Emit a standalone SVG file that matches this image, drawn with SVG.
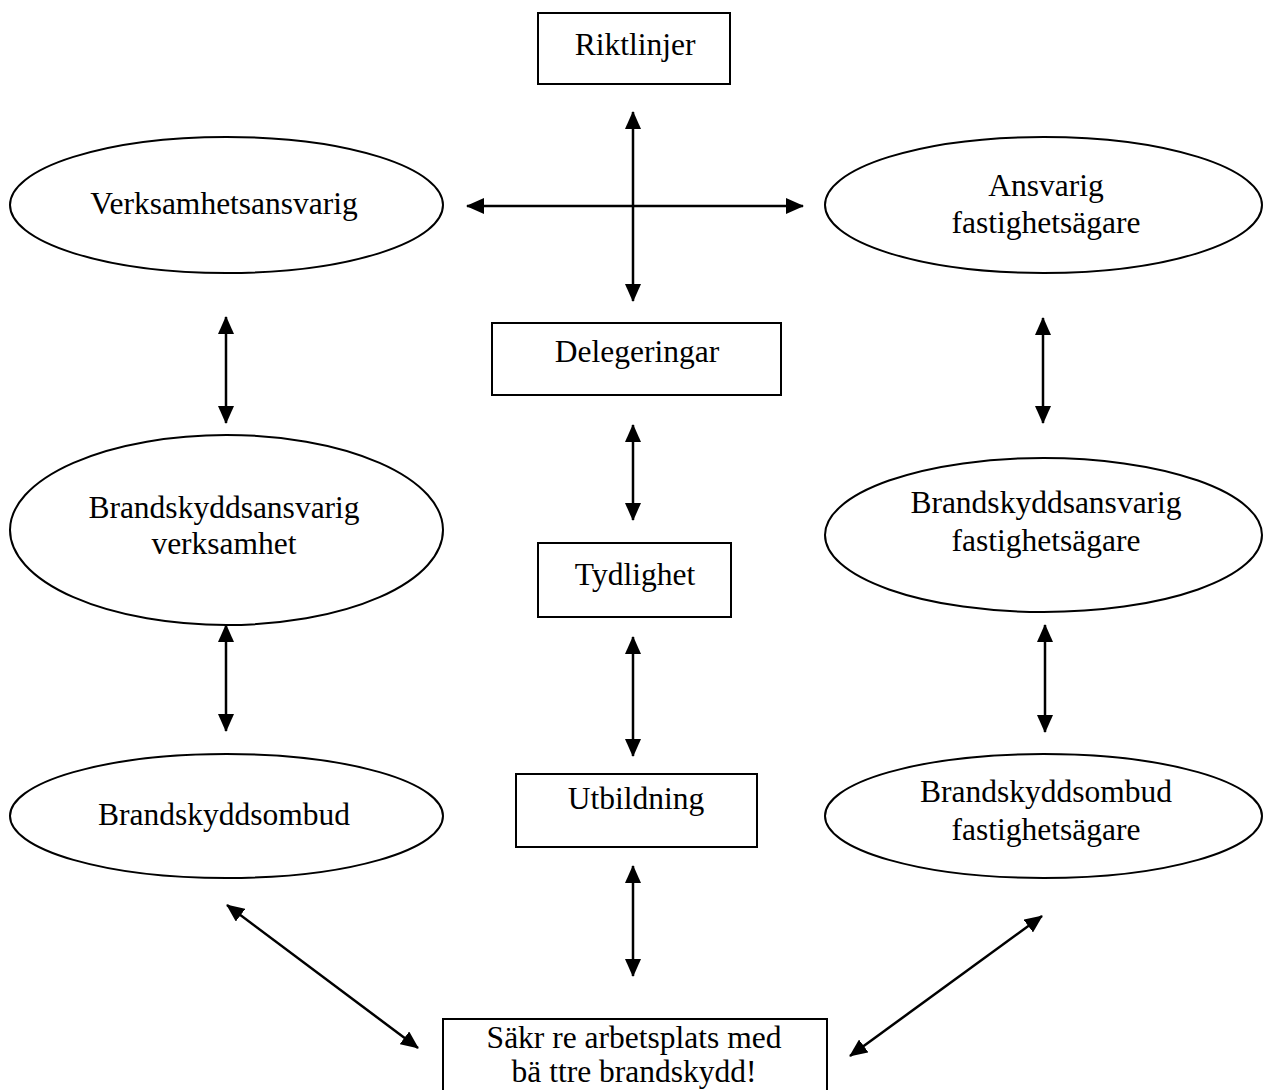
<svg xmlns="http://www.w3.org/2000/svg" width="1272" height="1090" viewBox="0 0 1272 1090">
  <style>
    .shape { fill: #ffffff; stroke: #000000; stroke-width: 2; }
    .lbl { font-family: "Liberation Serif", "Times New Roman", serif; font-size: 31.5px; fill: #000000; text-anchor: middle; }
    .conn { stroke: #000000; stroke-width: 2.5; fill: none; marker-start: url(#ah); marker-end: url(#ah); }
  </style>
  <defs>
    <marker id="ah" viewBox="0 0 18 16" refX="17" refY="8" markerWidth="18" markerHeight="16" markerUnits="userSpaceOnUse" orient="auto-start-reverse">
      <path d="M0,0 L18,8 L0,16 Z" fill="#000000"/>
    </marker>
  </defs>
  <rect width="1272" height="1090" fill="#ffffff"/>

  <g id="riktlinjer">
    <rect class="shape" x="538" y="13" width="192" height="71"/>
    <text class="lbl" x="635" y="55">Riktlinjer</text>
  </g>
  <g id="verksamhetsansvarig">
    <ellipse class="shape" cx="226.5" cy="205" rx="216.5" ry="68"/>
    <text class="lbl" x="224" y="214">Verksamhetsansvarig</text>
  </g>
  <g id="ansvarig-fastighetsagare">
    <ellipse class="shape" cx="1043.5" cy="205" rx="218.5" ry="68"/>
    <text class="lbl" x="1046" y="196">Ansvarig</text>
    <text class="lbl" x="1046" y="233">fastighetsägare</text>
  </g>
  <g id="delegeringar">
    <rect class="shape" x="492" y="323" width="289" height="72"/>
    <text class="lbl" x="637" y="362">Delegeringar</text>
  </g>
  <g id="brandskyddsansvarig-verksamhet">
    <ellipse class="shape" cx="226.5" cy="530" rx="216.5" ry="95"/>
    <text class="lbl" x="224" y="518">Brandskyddsansvarig</text>
    <text class="lbl" x="224" y="554">verksamhet</text>
  </g>
  <g id="brandskyddsansvarig-fastighetsagare">
    <ellipse class="shape" cx="1043.5" cy="535" rx="218.5" ry="77"/>
    <text class="lbl" x="1046" y="513">Brandskyddsansvarig</text>
    <text class="lbl" x="1046" y="551">fastighetsägare</text>
  </g>
  <g id="tydlighet">
    <rect class="shape" x="538" y="543" width="193" height="74"/>
    <text class="lbl" x="635" y="585">Tydlighet</text>
  </g>
  <g id="brandskyddsombud">
    <ellipse class="shape" cx="226.5" cy="816" rx="216.5" ry="62"/>
    <text class="lbl" x="224" y="825">Brandskyddsombud</text>
  </g>
  <g id="utbildning">
    <rect class="shape" x="516" y="774" width="241" height="73"/>
    <text class="lbl" x="636" y="809">Utbildning</text>
  </g>
  <g id="brandskyddsombud-fastighetsagare">
    <ellipse class="shape" cx="1043.5" cy="816" rx="218.5" ry="62"/>
    <text class="lbl" x="1046" y="802">Brandskyddsombud</text>
    <text class="lbl" x="1046" y="840">fastighetsägare</text>
  </g>
  <g id="sakrare-arbetsplats">
    <rect class="shape" x="443" y="1019" width="384" height="90"/>
    <text class="lbl" x="634" y="1048">Säkr re arbetsplats med</text>
    <text class="lbl" x="634" y="1082">bä ttre brandskydd!</text>
  </g>

  <g id="connectors">
    <line class="conn" x1="633" y1="112" x2="633" y2="301"/>
    <line class="conn" x1="467" y1="206" x2="803" y2="206"/>
    <line class="conn" x1="226" y1="317" x2="226" y2="423"/>
    <line class="conn" x1="1043" y1="318" x2="1043" y2="423"/>
    <line class="conn" x1="633" y1="425" x2="633" y2="520"/>
    <line class="conn" x1="226" y1="625" x2="226" y2="731"/>
    <line class="conn" x1="1045" y1="625" x2="1045" y2="732"/>
    <line class="conn" x1="633" y1="637" x2="633" y2="756"/>
    <line class="conn" x1="633" y1="866" x2="633" y2="976"/>
    <line class="conn" x1="227" y1="905" x2="418" y2="1048"/>
    <line class="conn" x1="1042" y1="916" x2="850" y2="1056"/>
  </g>
</svg>
